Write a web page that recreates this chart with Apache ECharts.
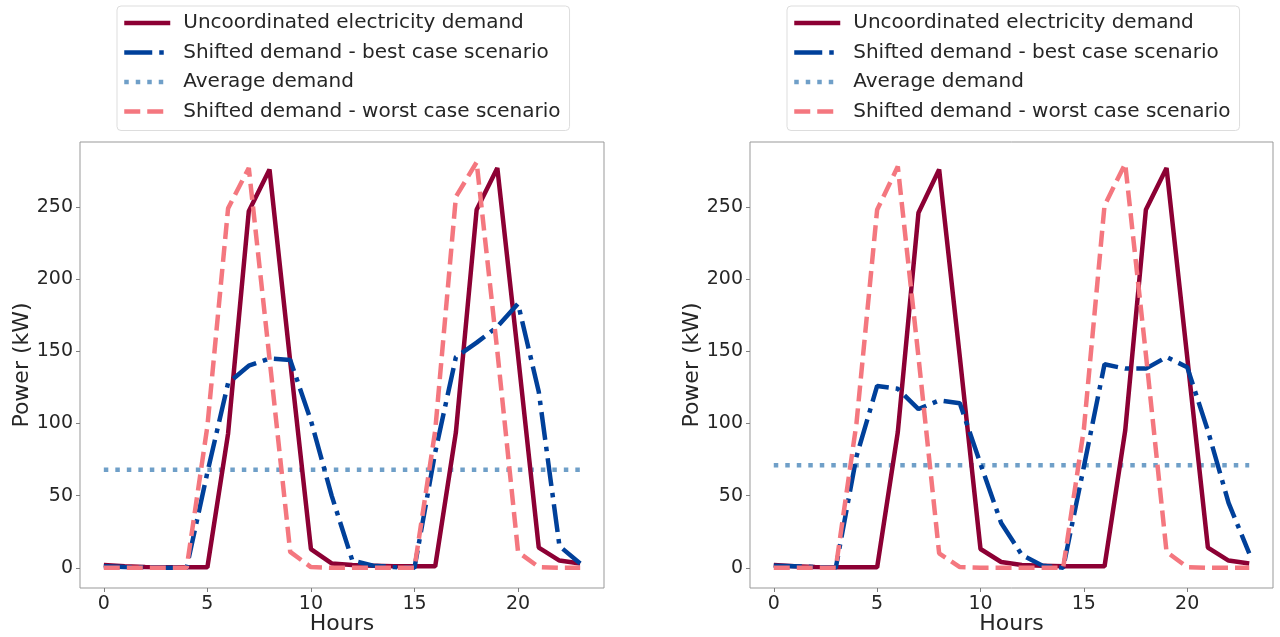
<!DOCTYPE html>
<html>
<head>
<meta charset="utf-8">
<title>Demand shifting</title>
<script src="https://cdn.jsdelivr.net/npm/echarts@6/dist/echarts.min.js"></script>
<style>
  html, body { margin: 0; padding: 0; background: #fff; }
  #main { width: 1280px; height: 637px; }
</style>
</head>
<body>
<div id="main"></div>
<script>
// hours of the day
var hours = [0, 1, 2, 3, 4, 5, 6, 7, 8, 9, 10, 11, 12, 13, 14, 15, 16, 17, 18, 19, 20, 21, 22, 23];
var xTicks = [0, 5, 10, 15, 20];
var yTicks = [0, 50, 100, 150, 200, 250];

// left panel
var uncoordLeft = [2, 1, 0.5, 0.3, 0.3, 0.3, 93, 247, 276, 143, 13, 3, 2, 1.5, 1, 1, 1, 94, 248, 277, 147, 14, 5, 3];
var bestLeft = [1, 0.5, 0.3, 0, 0, 66, 128, 140, 145, 144, 102, 50, 5, 1.5, 0.5, 0, 80, 146, 156, 167, 183, 122, 15, 3];
var worstLeft = [0, 0, 0, 0, 0, 98, 249, 277, 145, 11, 0.5, 0, 0, 0, 0, 0, 95, 257, 281, 150, 11, 0.5, 0, 0];
var avgLeft = 68;

// right panel
var uncoordRight = [2, 1, 0.5, 0.3, 0.3, 0.3, 94, 246, 276, 146, 13, 4, 2, 1.5, 1, 1, 1, 95, 248, 277, 146, 14, 5, 3];
var bestRight = [1.5, 1, 0.5, 0, 77, 126, 124, 110, 116, 114, 72, 31, 9, 1.5, 0, 70, 141, 138, 138, 146, 139, 95, 45, 10];
var worstRight = [0, 0, 0, 0, 100, 248, 278, 146, 10, 0.5, 0, 0, 0, 0, 0, 96, 251, 280, 148, 11, 0.5, 0, 0, 0];
var avgRight = 71;

var names = [
  "Uncoordinated electricity demand",
  "Shifted demand - best case scenario",
  "Average demand",
  "Shifted demand - worst case scenario"
];
var colors = ["#8c0034", "#00409a", "#6f9fc8", "#f4777f"];
var dashes = ["solid", [28, 7, 4.5, 7], [4.5, 7], [16, 7]];

var font = "DejaVu Sans";
var textColor = "#262626";

function pairs(vals) {
  return hours.map(function (h, i) { return [h, vals[i]]; });
}
function flat(v) {
  return hours.map(function (h) { return [h, v]; });
}

function makeSeries(idx, lists) {
  return lists.map(function (vals, k) {
    return {
      name: names[k],
      type: "line",
      xAxisIndex: idx,
      yAxisIndex: idx,
      data: vals,
      symbol: "none",
      animation: false,
      z: k == 2 ? 1 : 2 + k,
      lineStyle: { color: colors[k], width: 4.5, type: dashes[k] },
      itemStyle: { color: colors[k] }
    };
  });
}

function makeX(idx) {
  return {
    type: "value",
    gridIndex: idx,
    min: -1.15,
    max: 24.15,
    name: "Hours",
    nameLocation: "middle",
    nameGap: 25,
    nameMoveOverlap: false,
    nameTextStyle: { fontFamily: font, fontSize: 22, color: textColor, verticalAlign: "top" },
    axisLine: { show: false, onZero: false },
    splitLine: { show: false },
    axisTick: { show: true, length: 4, lineStyle: { color: "#808080" }, customValues: xTicks },
    axisLabel: { fontFamily: font, fontSize: 19, color: textColor, margin: 7, customValues: xTicks }
  };
}

function makeY(idx) {
  return {
    type: "value",
    gridIndex: idx,
    min: -14,
    max: 295,
    name: "Power (kW)",
    nameLocation: "middle",
    nameGap: 47,
    nameMoveOverlap: false,
    nameTextStyle: { fontFamily: font, fontSize: 22, color: textColor },
    axisLine: { show: false, onZero: false },
    splitLine: { show: false },
    axisTick: { show: true, length: 4, lineStyle: { color: "#808080" }, customValues: yTicks },
    axisLabel: { fontFamily: font, fontSize: 19, color: textColor, margin: 7, customValues: yTicks }
  };
}

function makeLegend(left) {
  return {
    left: left,
    top: 6,
    orient: "vertical",
    data: names,
    itemWidth: 46,
    itemHeight: 14,
    itemGap: 7.5,
    padding: [6, 9, 8, 5],
    borderColor: "#dddddd",
    borderWidth: 1,
    borderRadius: 4,
    backgroundColor: "#ffffff",
    selectedMode: false,
    itemStyle: { color: "transparent", opacity: 0, borderWidth: 0 },
    lineStyle: { width: 4.5 },
    textStyle: { fontFamily: font, fontSize: 20, color: textColor, lineHeight: 22, padding: [0, 0, 0, 8] }
  };
}

var myChart = echarts.init(document.getElementById("main"));

var series = []
  .concat(makeSeries(0, [pairs(uncoordLeft), pairs(bestLeft), flat(avgLeft), pairs(worstLeft)]))
  .concat(makeSeries(1, [pairs(uncoordRight), pairs(bestRight), flat(avgRight), pairs(worstRight)]));

var option = {
  backgroundColor: "#ffffff",
  animation: false,
  legend: [makeLegend(117), makeLegend(787)],
  grid: [
    { left: 80, top: 142, width: 524, height: 446, outerBoundsMode: "none", containLabel: false, show: true, borderColor: "#999999", borderWidth: 1, backgroundColor: "transparent" },
    { left: 750, top: 142, width: 523, height: 446, outerBoundsMode: "none", containLabel: false, show: true, borderColor: "#999999", borderWidth: 1, backgroundColor: "transparent" }
  ],
  xAxis: [makeX(0), makeX(1)],
  yAxis: [makeY(0), makeY(1)],
  series: series
};

myChart.setOption(option);
</script>
</body>
</html>
